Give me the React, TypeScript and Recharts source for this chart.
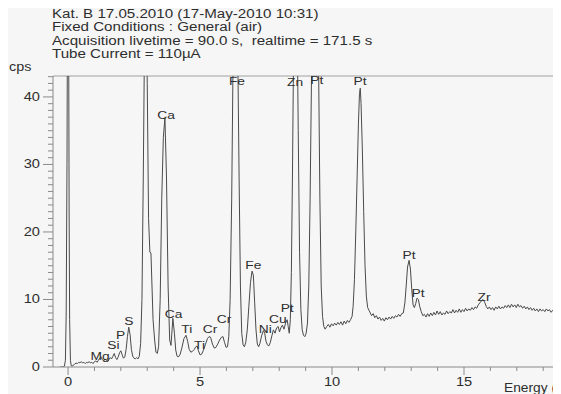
import { ComposedChart, Line, Scatter, XAxis, YAxis, ReferenceLine } from "recharts";

// EDX spectrum, energy in keV vs counts per second
const spectrum: [number, number][] = [
  [-0.3, 0], [-0.2, 0], [-0.14, 0.1], [-0.1, 1], [-0.07, 8], [-0.04, 30], [-0.02, 55], [0, 70],
  [0.02, 55], [0.04, 24], [0.06, 7], [0.09, 1], [0.12, 0.2], [0.16, 0.1], [0.2, 0.3], [0.25, 0.4],
  [0.3, 0.6], [0.35, 0.5], [0.4, 0.7], [0.45, 0.6], [0.5, 0.8], [0.55, 0.6], [0.6, 0.7], [0.65, 0.5],
  [0.7, 0.7], [0.75, 0.6], [0.8, 0.8], [0.85, 0.6], [0.9, 0.7], [0.95, 0.5], [1.0, 0.8], [1.05, 0.9],
  [1.1, 0.7], [1.15, 1.0], [1.2, 1.3], [1.25, 1.5], [1.3, 1.1], [1.35, 0.9], [1.4, 1.2], [1.45, 1.0],
  [1.5, 0.8], [1.55, 1.1], [1.6, 1.4], [1.65, 1.2], [1.7, 1.6], [1.75, 2.0], [1.8, 1.4], [1.85, 1.1],
  [1.9, 1.5], [1.95, 2.1], [2.0, 2.4], [2.05, 1.8], [2.1, 1.3], [2.15, 1.5], [2.2, 2.6], [2.25, 4.5],
  [2.3, 5.9], [2.35, 4.8], [2.4, 2.6], [2.45, 1.6], [2.5, 1.3], [2.55, 1.2], [2.6, 1.4], [2.65, 1.2],
  [2.7, 1.6], [2.75, 3.5], [2.8, 10], [2.85, 28], [2.9, 50], [2.95, 60], [3.0, 42], [3.05, 22],
  [3.1, 17], [3.14, 16.9], [3.18, 12], [3.22, 7], [3.28, 4], [3.33, 2.2], [3.38, 2.0], [3.43, 3],
  [3.49, 10], [3.55, 25], [3.61, 34], [3.67, 36.9], [3.73, 28], [3.79, 12], [3.85, 4], [3.9, 3.2],
  [3.97, 7.2], [4.03, 5], [4.08, 2.5], [4.13, 1.6], [4.18, 1.5], [4.24, 1.8], [4.31, 2.8], [4.39, 4.2],
  [4.47, 4.7], [4.53, 3.8], [4.59, 2.6], [4.65, 2.2], [4.71, 2.3], [4.78, 2.6], [4.84, 3.0], [4.89, 3.1],
  [4.94, 2.4], [5.0, 1.8], [5.06, 1.9], [5.13, 2.5], [5.2, 3.3], [5.28, 4.2], [5.34, 4.5], [5.4, 4.4],
  [5.47, 3.4], [5.54, 2.8], [5.6, 2.9], [5.67, 3.4], [5.74, 4.0], [5.81, 4.4], [5.87, 4.5], [5.93, 3.6],
  [5.99, 2.9], [6.04, 3.0], [6.09, 4.5], [6.14, 10], [6.2, 25], [6.25, 45], [6.3, 60], [6.36, 65],
  [6.42, 50], [6.48, 28], [6.53, 12], [6.58, 5], [6.63, 3.3], [6.68, 3.0], [6.73, 3.6], [6.79, 5.5],
  [6.85, 9], [6.91, 12.5], [6.97, 14.2], [7.02, 13.6], [7.07, 9.5], [7.12, 5.5], [7.17, 3.4], [7.22, 3.0],
  [7.27, 3.5], [7.33, 4.6], [7.4, 5.4], [7.45, 5.0], [7.5, 3.8], [7.55, 3.3], [7.6, 3.1], [7.66, 3.6],
  [7.72, 4.6], [7.78, 5.5], [7.84, 5.0], [7.9, 5.8], [7.96, 6.0], [8.01, 5.2], [8.06, 5.8], [8.12, 6.2],
  [8.18, 5.6], [8.24, 6.5], [8.3, 7.0], [8.34, 6.0], [8.38, 5.0], [8.42, 7], [8.46, 14], [8.5, 28],
  [8.54, 45], [8.58, 60], [8.62, 65], [8.67, 55], [8.72, 35], [8.77, 17], [8.82, 8.5], [8.87, 5.5],
  [8.92, 4.7], [8.97, 4.5], [9.02, 5.0], [9.07, 6.5], [9.12, 12], [9.17, 25], [9.22, 42], [9.27, 55],
  [9.32, 62], [9.38, 65], [9.44, 60], [9.49, 45], [9.54, 25], [9.59, 12], [9.64, 7.5], [9.69, 6.0],
  [9.74, 5.6], [9.8, 6.0], [9.86, 6.3], [9.92, 5.9], [9.98, 6.4], [10.04, 6.1], [10.1, 6.5], [10.16, 6.2],
  [10.22, 6.6], [10.28, 6.3], [10.34, 6.7], [10.4, 6.2], [10.46, 6.8], [10.52, 6.4], [10.58, 6.9], [10.64, 6.6],
  [10.7, 7.0], [10.76, 7.5], [10.8, 9], [10.85, 13], [10.9, 20], [10.95, 28], [11.0, 36], [11.04, 40.5],
  [11.07, 41.3], [11.1, 39], [11.15, 32], [11.2, 23], [11.25, 15], [11.3, 10.5], [11.35, 8.8], [11.4, 8.4],
  [11.45, 8.0], [11.5, 7.6], [11.56, 7.9], [11.62, 7.3], [11.68, 7.6], [11.74, 7.1], [11.8, 7.4], [11.86, 6.9],
  [11.92, 7.2], [11.98, 6.8], [12.04, 7.3], [12.1, 7.0], [12.16, 7.4], [12.22, 7.1], [12.28, 7.5], [12.34, 7.2],
  [12.4, 7.6], [12.46, 7.4], [12.52, 7.8], [12.58, 7.5], [12.64, 7.9], [12.7, 8.0], [12.76, 9.5], [12.81, 12],
  [12.86, 14.8], [12.92, 15.8], [12.97, 14.5], [13.02, 11.5], [13.07, 9.2], [13.12, 8.8], [13.17, 9.4], [13.22, 10.2],
  [13.27, 10.0], [13.32, 9.0], [13.38, 8.2], [13.44, 7.6], [13.5, 7.8], [13.56, 7.4], [13.62, 7.9], [13.68, 7.5],
  [13.74, 8.0], [13.8, 7.6], [13.86, 8.1], [13.92, 7.7], [13.98, 8.3], [14.04, 7.8], [14.1, 8.2], [14.16, 7.7],
  [14.22, 8.0], [14.28, 7.8], [14.34, 8.3], [14.4, 7.9], [14.46, 8.2], [14.52, 8.0], [14.58, 8.5], [14.64, 8.0],
  [14.7, 8.4], [14.76, 8.1], [14.82, 8.6], [14.88, 8.1], [14.94, 8.5], [15.0, 8.2], [15.06, 8.7], [15.12, 8.3],
  [15.18, 8.6], [15.24, 8.4], [15.3, 8.8], [15.36, 8.5], [15.42, 8.9], [15.48, 8.7], [15.54, 9.2], [15.6, 9.5],
  [15.66, 9.8], [15.72, 10.0], [15.78, 9.6], [15.84, 9.0], [15.9, 8.6], [15.96, 8.9], [16.02, 8.5], [16.08, 8.8],
  [16.14, 8.4], [16.2, 8.9], [16.26, 8.6], [16.32, 9.0], [16.38, 8.6], [16.44, 8.9], [16.5, 8.7], [16.56, 9.1],
  [16.62, 8.8], [16.68, 9.2], [16.74, 8.8], [16.8, 9.3], [16.86, 8.9], [16.92, 9.2], [16.98, 8.8], [17.04, 9.3],
  [17.1, 8.9], [17.16, 9.1], [17.22, 8.7], [17.28, 9.0], [17.34, 8.6], [17.4, 8.9], [17.46, 8.5], [17.52, 8.8],
  [17.58, 8.4], [17.64, 8.7], [17.7, 8.3], [17.76, 8.6], [17.82, 8.2], [17.88, 8.6], [17.94, 8.3], [18.0, 8.5],
  [18.06, 8.2], [18.12, 8.6], [18.18, 8.3], [18.24, 8.5], [18.3, 8.1], [18.36, 8.4], [18.42, 8.2], [18.48, 8.5],
  [18.54, 8.1], [18.6, 8.4], [18.66, 8.2], [18.72, 8.4], [18.8, 8.3],
];

// element labels placed at (keV, cps) of the label centre
const peakLabels: [string, number, number][] = [
  ["Mg", 1.21, 1.7], ["Si", 1.72, 3.2], ["P", 1.99, 4.8], ["S", 2.30, 6.8],
  ["Ca", 3.71, 37.3], ["Ca", 4.0, 7.9], ["Ti", 4.5, 5.6], ["Ti", 4.98, 3.2],
  ["Cr", 5.38, 5.6], ["Cr", 5.91, 7.1], ["Fe", 6.4, 42.4], ["Fe", 7.02, 15.1],
  ["Ni", 7.47, 5.7], ["Cu", 7.95, 7.1], ["Pt", 8.3, 8.7], ["Zn", 8.6, 42.2],
  ["Pt", 9.42, 42.5], ["Pt", 11.06, 42.3], ["Pt", 12.92, 16.6], ["Pt", 13.26, 11.0],
  ["Zr", 15.76, 10.4],
];

const headerLines = [
  "Kat. B 17.05.2010 (17-May-2010 10:31)",
  "Fixed Conditions : General (air)",
  "Acquisition livetime = 90.0 s,  realtime = 171.5 s",
  "Tube Current = 110µA",
];

const xTicks = [0, 1, 2, 3, 4, 5, 6, 7, 8, 9, 10, 11, 12, 13, 14, 15, 16, 17, 18, 19, 20];
const yTicks = Array.from({ length: 44 }, (_, i) => i);

const Y_MAX = 43.1;
const STRETCH = 1.22; // the scan is a bit wider than tall
const axisColor = "#8a8a8a";
const textColor = "#2e2e2e";

const lineData = spectrum.map(([e, c]) => ({ e, c }));
const labelData = peakLabels.map(([name, e, c]) => ({ name, e, c }));

function XTick(props: any) {
  const { x, y, payload } = props;
  const major = payload.value % 5 === 0;
  return (
    <g>
      <line x1={x} x2={x} y1={y} y2={y + (major ? 8 : 4)} stroke={axisColor} />
      {major && (
        <text
          transform={`translate(${x},${y + 19}) scale(${STRETCH},1)`}
          textAnchor="middle"
          fontSize={12}
          fill={textColor}
        >
          {payload.value}
        </text>
      )}
    </g>
  );
}

function YTick(props: any) {
  const { x, y, payload } = props;
  const major = payload.value % 10 === 0;
  return (
    <g>
      <line x1={x} x2={x - (major ? 10 : 5)} y1={y} y2={y} stroke={axisColor} />
      {major && (
        <text
          transform={`translate(${x - 13},${y + 4}) scale(${STRETCH},1)`}
          textAnchor="end"
          fontSize={12}
          fill={textColor}
        >
          {payload.value}
        </text>
      )}
    </g>
  );
}

function PeakLabel(props: any) {
  const { cx, cy, payload } = props;
  return (
    <text
      transform={`translate(${cx},${cy + 4}) scale(1.2,1)`}
      textAnchor="middle"
      fontSize={11.5}
      fill={textColor}
    >
      {payload.name}
    </text>
  );
}

export default function App() {
  return (
    <div style={page}>
      <div style={header}>
        {headerLines.map((t) => (
          <div key={t} style={{ whiteSpace: "pre" }}>{t}</div>
        ))}
      </div>
      <div style={cpsLabel}>cps</div>
      <div style={energyLabel}>Energy (keV)</div>
      <ComposedChart
        width={596}
        height={394}
        data={lineData}
        margin={{ top: 76, right: 0, bottom: 0, left: 0 }}
        style={{ position: "absolute", left: 0, top: 0 }}
      >
        <XAxis
          type="number"
          dataKey="e"
          domain={[-0.57, 20]}
          allowDataOverflow
          ticks={xTicks}
          interval={0}
          tickSize={0}
          tickMargin={0}
          tickLine={false}
          tick={<XTick />}
          height={27}
          stroke={axisColor}
        />
        <YAxis
          type="number"
          domain={[0, Y_MAX]}
          allowDataOverflow
          ticks={yTicks}
          interval={0}
          tickSize={0}
          tickMargin={0}
          tickLine={false}
          tick={<YTick />}
          width={53}
          stroke={axisColor}
        />
        <YAxis yAxisId="lab" type="number" domain={[0, Y_MAX]} hide />
        <ReferenceLine y={Y_MAX} stroke="#a0a0a0" />
        <Line
          type="linear"
          dataKey="c"
          stroke="#4a4a4a"
          strokeWidth={1}
          dot={false}
          isAnimationActive={false}
        />
        <Scatter
          yAxisId="lab"
          data={labelData}
          dataKey="c"
          shape={<PeakLabel />}
          isAnimationActive={false}
        />
      </ComposedChart>
    </div>
  );
}

const page: React.CSSProperties = {
  position: "relative",
  width: 561,
  height: 394,
  margin: "-8px 0 0 -8px",
  overflow: "hidden",
  background: "#f6f6f6",
  fontFamily: "'Liberation Sans', Arial, sans-serif",
  color: textColor,
};

const header: React.CSSProperties = {
  position: "absolute",
  left: 52,
  top: 8,
  fontSize: 12.5,
  lineHeight: "13.4px",
  transform: "scaleX(1.21)",
  transformOrigin: "left top",
};

const cpsLabel: React.CSSProperties = {
  position: "absolute",
  left: 9,
  top: 60,
  fontSize: 12,
  transform: "scaleX(1.2)",
  transformOrigin: "left top",
};

const energyLabel: React.CSSProperties = {
  position: "absolute",
  left: 504,
  top: 381,
  fontSize: 12.5,
  whiteSpace: "nowrap",
  transform: "scaleX(1.1)",
  transformOrigin: "left top",
};
